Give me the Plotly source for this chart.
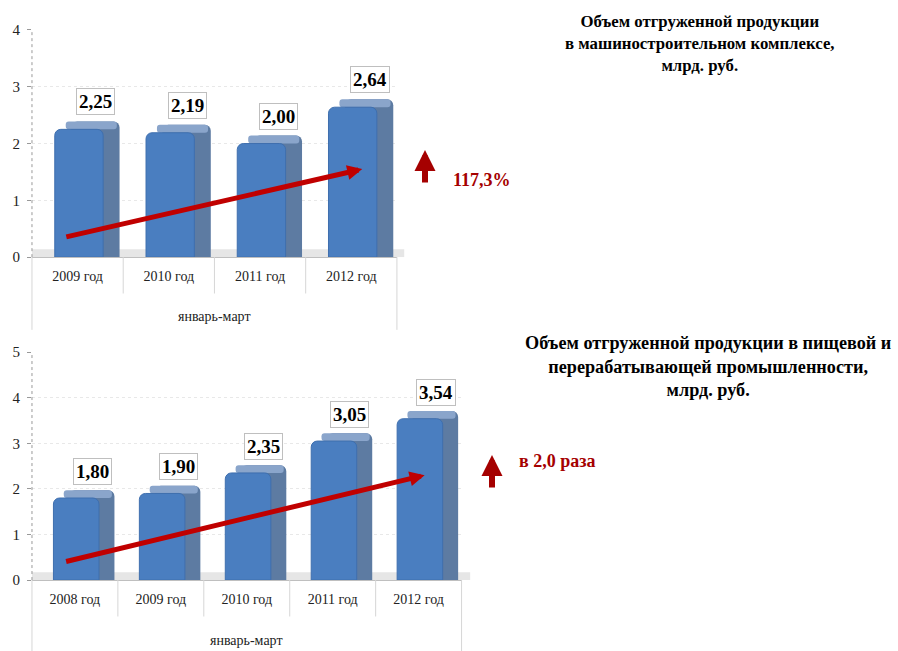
import plotly.graph_objects as go

# ---- data ----
period = "январь-март"
years_top = ["2009 год", "2010 год", "2011 год", "2012 год"]
values_top = [2.25, 2.19, 2.00, 2.64]
labels_top = ["2,25", "2,19", "2,00", "2,64"]
title_top = "Объем отгруженной продукции<br>в машиностроительном комплексе,<br>млрд. руб."
growth_top = "117,3%"
trend_top = [0.35, 1.55]

years_bot = ["2008 год", "2009 год", "2010 год", "2011 год", "2012 год"]
values_bot = [1.80, 1.90, 2.35, 3.05, 3.54]
labels_bot = ["1,80", "1,90", "2,35", "3,05", "3,54"]
title_bot = "Объем отгруженной продукции в пищевой и<br>перерабатывающей промышленности,<br>млрд. руб."
growth_bot = "в 2,0 раза"
trend_bot = [0.4, 2.3]

FONT = "Liberation Serif"
FRONT = "#4a7ec0"
SIDE = "#5d7ba2"
TOP = "#8aa5cb"
RED = "#c00000"
DARKRED = "#a50000"

fig = go.Figure()


def add_chart(years, values, xa, ya, depth):
    # side face
    fig.add_trace(go.Bar(x=years, y=[v + depth for v in values], width=0.53, offset=-0.07,
                         marker=dict(color=SIDE, line=dict(width=0), cornerradius=6),
                         xaxis=xa, yaxis=ya, showlegend=False, hoverinfo="skip"))
    # top face
    fig.add_trace(go.Bar(x=years, y=[depth] * len(values), base=values, width=0.56, offset=-0.13,
                         marker=dict(color=TOP, line=dict(width=0), cornerradius=4),
                         xaxis=xa, yaxis=ya, showlegend=False, hoverinfo="skip"))
    # front face
    fig.add_trace(go.Bar(x=years, y=values, width=0.53, offset=-0.25,
                         marker=dict(color=FRONT, line=dict(color="#3f6fae", width=1), cornerradius=6),
                         xaxis=xa, yaxis=ya, showlegend=False))


add_chart(years_top, values_top, "x", "y", 0.14)
add_chart(years_bot, values_bot, "x2", "y2", 0.17)

axis_common = dict(showgrid=False, zeroline=False, showline=True, linecolor="#bfbfbf",
                   tickfont=dict(family=FONT, size=14, color="#222"), ticks="",
                   automargin=False, ticklabelstandoff=6)
yaxis_common = dict(showgrid=True, gridcolor="#e8e8e8", griddash="dot", zeroline=False,
                    showline=False, ticks="outside", ticklen=4,
                    tickcolor="#999", tickfont=dict(family=FONT, size=15, color="#222"),
                    dtick=1, automargin=False, ticklabelstandoff=4)

fig.update_layout(
    width=898, height=651, margin=dict(l=0, r=0, t=0, b=0, autoexpand=False),
    paper_bgcolor="white", plot_bgcolor="white", barmode="overlay",
    xaxis=dict(domain=[0.0356, 0.442], anchor="y", **axis_common),
    yaxis=dict(domain=[0.605, 0.954], anchor="x", range=[0, 4], **yaxis_common),
    xaxis2=dict(domain=[0.0356, 0.514], anchor="y2", **axis_common),
    yaxis2=dict(domain=[0.109, 0.459], anchor="x2", range=[0, 5], **yaxis_common),
    font=dict(family=FONT),
)

shapes = []
for xa, ya, d, n, inner, outer in [("x", "y", 0.14, len(years_top), -0.16, -0.32),
                                   ("x2", "y2", 0.17, len(years_bot), -0.16, -0.32)]:
    # floor
    shapes.append(dict(type="rect", xref=xa + " domain", yref=ya, x0=0, x1=1.02, y0=0, y1=d,
                       fillcolor="#e6e6e6", line=dict(width=0), layer="below"))
    # dashed y axis line
    shapes.append(dict(type="line", xref=xa + " domain", yref=ya + " domain", x0=0, x1=0, y0=0, y1=1,
                       line=dict(color="#999", width=1, dash="dot")))
    # dividers between categories
    for k in range(1, n):
        shapes.append(dict(type="line", xref=xa, yref=ya + " domain", x0=k - 0.5, x1=k - 0.5,
                           y0=0, y1=inner, line=dict(color="#d6d6d6", width=1)))
    for xe in (0, 1):
        shapes.append(dict(type="line", xref=xa + " domain", yref=ya + " domain", x0=xe, x1=xe,
                           y0=0, y1=outer, line=dict(color="#d6d6d6", width=1)))

anns = []
for i, (v, t) in enumerate(zip(values_top, labels_top)):
    anns.append(dict(x=i + 0.2, y=v, xref="x", yref="y", text="<b>" + t + "</b>", showarrow=False,
                     yanchor="bottom", yshift=14, font=dict(family=FONT, size=19, color="black"),
                     bordercolor="#bfbfbf", borderwidth=1, borderpad=2, bgcolor="white"))
for i, (v, t) in enumerate(zip(values_bot, labels_bot)):
    anns.append(dict(x=i + 0.2, y=v, xref="x2", yref="y2", text="<b>" + t + "</b>", showarrow=False,
                     yanchor="bottom", yshift=13, font=dict(family=FONT, size=19, color="black"),
                     bordercolor="#bfbfbf", borderwidth=1, borderpad=2, bgcolor="white"))

# period labels
anns.append(dict(x=0.5, y=-0.305, xref="x domain", yref="y domain", text=period, showarrow=False,
                 font=dict(family=FONT, size=14, color="#222")))
anns.append(dict(x=0.5, y=-0.308, xref="x2 domain", yref="y2 domain", text=period, showarrow=False,
                 font=dict(family=FONT, size=14, color="#222")))

# trend arrows
anns.append(dict(x=len(years_top) - 1 + 0.12, y=trend_top[1], ax=-0.14, ay=trend_top[0],
                 xref="x", yref="y", axref="x", ayref="y", showarrow=True, text="",
                 arrowhead=2, arrowsize=0.6, arrowwidth=5, arrowcolor=RED))
anns.append(dict(x=len(years_bot) - 1 + 0.07, y=trend_bot[1], ax=-0.12, ay=trend_bot[0],
                 xref="x2", yref="y2", axref="x2", ayref="y2", showarrow=True, text="",
                 arrowhead=2, arrowsize=0.6, arrowwidth=5, arrowcolor=RED))

# titles
anns.append(dict(x=700 / 898, y=1 - 10 / 651, xref="paper", yref="paper", text="<b>" + title_top + "</b>",
                 showarrow=False, xanchor="center", yanchor="top", align="center",
                 font=dict(family=FONT, size=16.8, color="black")))
anns.append(dict(x=708 / 898, y=1 - 331 / 651, xref="paper", yref="paper", text="<b>" + title_bot + "</b>",
                 showarrow=False, xanchor="center", yanchor="top", align="center",
                 font=dict(family=FONT, size=18.2, color="black")))

# growth arrows and labels
for (gx, gy0, gy1, tx, ty, txt) in [(425, 184, 150, 482, 168, growth_top), (492, 489, 455, 557, 473, growth_bot)]:
    anns.append(dict(x=gx / 898, y=1 - gy1 / 651, ax=0, ay=gy0 - gy1,
                     xref="paper", yref="paper", axref="pixel", ayref="pixel", text="",
                     showarrow=True, arrowhead=2, arrowsize=0.7, arrowwidth=6, arrowcolor=DARKRED))
    anns.append(dict(x=tx / 898, y=1 - ty / 651, xref="paper", yref="paper", text="<b>" + txt + "</b>",
                     showarrow=False, font=dict(family=FONT, size=18, color=DARKRED)))

fig.update_layout(annotations=anns, shapes=shapes)
fig.write_html("out.html", config={"displayModeBar": False},
               post_script="document.body.style.margin='0';")
